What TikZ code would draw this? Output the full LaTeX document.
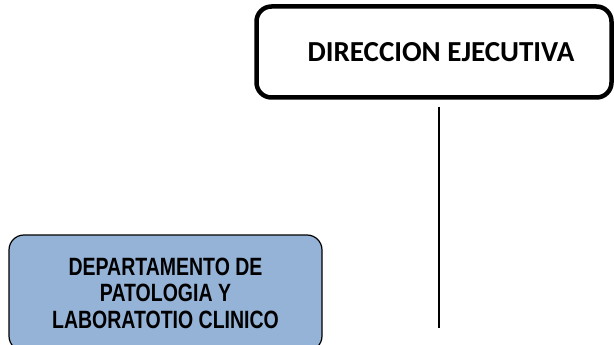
\documentclass[tikz,border=0pt]{standalone}
\usepackage{fontspec}
\usetikzlibrary{positioning}
\newfontfamily\headfont{Carlito}
\newfontfamily\deptfont[FakeStretch=0.78]{Liberation Sans}
\definecolor{deptblue}{HTML}{95B3D7}
\tikzset{
  dirbox/.style={draw, line width=4.5pt, rounded corners=15pt, minimum width=355pt,
    minimum height=91pt, inner sep=0pt, font=\headfont\bfseries\fontsize{29}{34}\selectfont},
  deptbox/.style={draw, fill=deptblue, line width=1.2pt, rounded corners=15pt,
    minimum width=313pt, minimum height=116pt, inner sep=0pt, align=center,
    font=\deptfont\bfseries\fontsize{25}{26.5}\selectfont},
  linkline/.style={line width=1.5pt}
}
\begin{document}
\begin{tikzpicture}[x=1pt,y=1pt]
  \useasboundingbox (0,0) rectangle (614,-345);
  % top box
  \node[dirbox] (dir) at (434,-52) {\hspace*{14pt}DIRECCION EJECUTIVA};
  % department box
  \node[deptbox] (dept) at (165.5,-293) {DEPARTAMENTO DE\\PATOLOGIA Y\\LABORATOTIO CLINICO};
  % vertical line
  \coordinate (lineend) at (439,-328);
  \draw[linkline] ([yshift=-7pt]lineend |- dir.south) -- (lineend);
\end{tikzpicture}
\end{document}
